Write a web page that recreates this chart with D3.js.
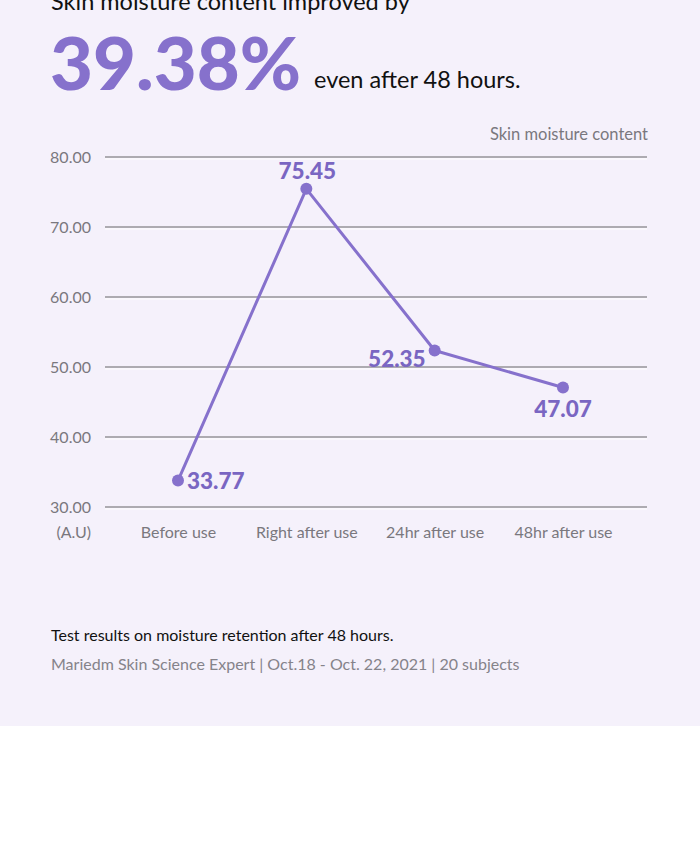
<!DOCTYPE html>
<html>
<head>
<meta charset="utf-8">
<title>Skin moisture content</title>
<script src="https://d3js.org/d3.v7.min.js"></script>
<style>
  html, body { margin: 0; padding: 0; background: #fff; }
  svg { display: block; }
  .tick text { font-family: Lato, "Open Sans", sans-serif; }
</style>
</head>
<body>
<script>

var categories = ["Before use", "Right after use", "24hr after use", "48hr after use"];
var values = [33.77, 75.45, 52.35, 47.07];
var yTicks = [30, 40, 50, 60, 70, 80];

var W = 700, H = 854;
var purple = "#8671cc", labelPurple = "#7a66c2";
var font = "Lato, 'Open Sans', sans-serif";

var svg = d3.select("body").append("svg")
    .attr("width", W)
    .attr("height", H);

svg.append("rect")
    .attr("width", W)
    .attr("height", 726)
    .attr("fill", "#f5f1fb");

// header
svg.append("text")
    .attr("x", 51).attr("y", 10)
    .attr("font-family", font).attr("font-size", 23.5)
    .attr("fill", "#111")
    .text("Skin moisture content improved by");

svg.append("text")
    .attr("x", 50).attr("y", 90)
    .attr("font-family", font).attr("font-size", 72).attr("font-weight", 900)
    .attr("fill", purple)
    .attr("textLength", 251).attr("lengthAdjust", "spacingAndGlyphs")
    .text("39.38%");

svg.append("text")
    .attr("x", 314).attr("y", 88)
    .attr("font-family", font).attr("font-size", 23.5)
    .attr("fill", "#111")
    .text("even after 48 hours.");

var pLeft = 105, pRight = 647, pTop = 157, pBottom = 507;

var x = d3.scalePoint()
    .domain(categories)
    .range([178, 563]);

var y = d3.scaleLinear()
    .domain([30, 80])
    .range([pBottom, pTop]);

// grid lines (gray line with a light edge below)
var grid = svg.append("g");
grid.selectAll("line.g1")
  .data(yTicks)
  .enter().append("line")
    .attr("class", "g1")
    .attr("x1", pLeft).attr("x2", pRight)
    .attr("y1", function(d) { return y(d); })
    .attr("y2", function(d) { return y(d); })
    .attr("stroke", "#adabb1").attr("stroke-width", 2);
grid.selectAll("line.g2")
  .data(yTicks)
  .enter().append("line")
    .attr("class", "g2")
    .attr("x1", pLeft).attr("x2", pRight)
    .attr("y1", function(d) { return y(d) + 2; })
    .attr("y2", function(d) { return y(d) + 2; })
    .attr("stroke", "#ffffff").attr("stroke-width", 1.2);

// y axis
var yAxis = svg.append("g")
    .attr("transform", "translate(" + pLeft + ",0)")
    .call(d3.axisLeft(y).tickValues(yTicks).tickSize(0).tickPadding(14)
      .tickFormat(d3.format(".2f")));
yAxis.select(".domain").remove();
yAxis.selectAll("text")
    .attr("font-size", 16)
    .attr("fill", "#7a787e");

// x axis
var xAxis = svg.append("g")
    .attr("transform", "translate(0," + pBottom + ")")
    .call(d3.axisBottom(x).tickSize(0).tickPadding(20));
xAxis.select(".domain").remove();
xAxis.selectAll("text")
    .attr("font-size", 16)
    .attr("fill", "#7a787e");

svg.append("text")
    .attr("x", 91).attr("y", 538)
    .attr("text-anchor", "end")
    .attr("font-family", font).attr("font-size", 16)
    .attr("fill", "#7a787e")
    .text("(A.U)");

svg.append("text")
    .attr("x", 648).attr("y", 140)
    .attr("text-anchor", "end")
    .attr("font-family", font).attr("font-size", 16.5)
    .attr("fill", "#7a787e")
    .text("Skin moisture content");

// line
var pts = categories.map(function(c, i) { return {c: c, v: values[i]}; });

svg.append("path")
    .datum(pts)
    .attr("fill", "none")
    .attr("stroke", purple)
    .attr("stroke-width", 3)
    .attr("stroke-linejoin", "round")
    .attr("d", d3.line()
      .x(function(d) { return x(d.c); })
      .y(function(d) { return y(d.v); }));

svg.selectAll("circle.pt")
  .data(pts)
  .enter().append("circle")
    .attr("class", "pt")
    .attr("cx", function(d) { return x(d.c); })
    .attr("cy", function(d) { return y(d.v); })
    .attr("r", 6)
    .attr("fill", purple);

// value labels
var labelPos = [
  {dx: 9, dy: 8, anchor: "start"},
  {dx: 1, dy: -10, anchor: "middle"},
  {dx: -9, dy: 16, anchor: "end"},
  {dx: 0, dy: 29, anchor: "middle"}
];

svg.selectAll("text.val")
  .data(pts)
  .enter().append("text")
    .attr("class", "val")
    .attr("x", function(d, i) { return x(d.c) + labelPos[i].dx; })
    .attr("y", function(d, i) { return y(d.v) + labelPos[i].dy; })
    .attr("text-anchor", function(d, i) { return labelPos[i].anchor; })
    .attr("font-family", font).attr("font-size", 22.5).attr("font-weight", 900)
    .attr("fill", labelPurple)
    .text(function(d) { return d3.format(".2f")(d.v); });

// footer
svg.append("text")
    .attr("x", 51).attr("y", 641)
    .attr("font-family", font).attr("font-size", 16)
    .attr("fill", "#111")
    .text("Test results on moisture retention after 48 hours.");

svg.append("text")
    .attr("x", 51).attr("y", 670)
    .attr("font-family", font).attr("font-size", 16)
    .attr("fill", "#85838a")
    .text("Mariedm Skin Science Expert | Oct.18 - Oct. 22, 2021 | 20 subjects");

</script>
</body>
</html>
